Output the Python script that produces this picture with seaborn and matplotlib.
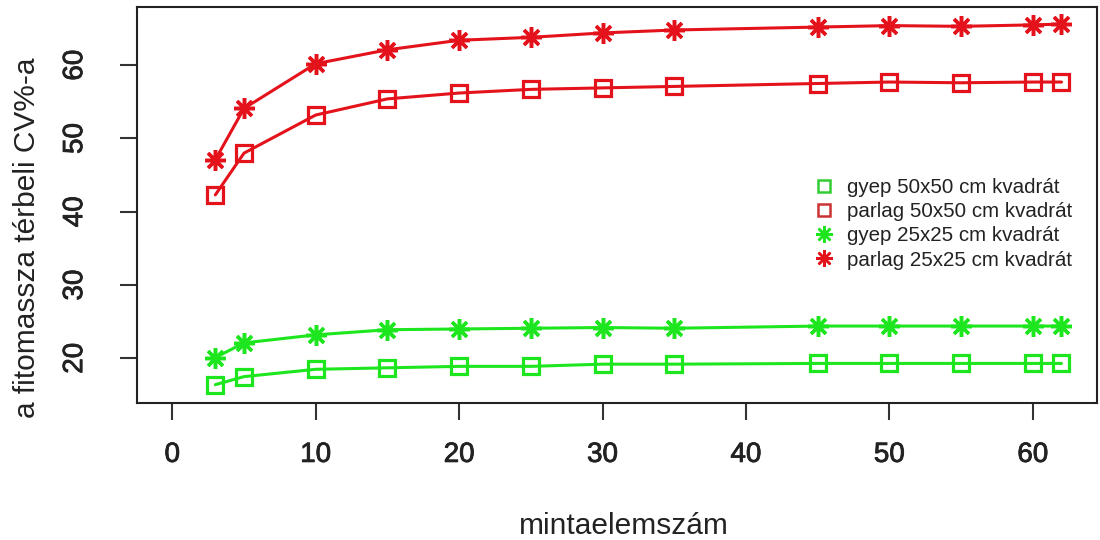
import matplotlib
matplotlib.use("Agg")
import matplotlib.pyplot as plt
import matplotlib.patheffects as pe
from matplotlib.lines import Line2D
import seaborn as sns
import pandas as pd

# mintaelemszám (x) and CV% values
mintaelem = [3, 5, 10, 15, 20, 25, 30, 35, 45, 50, 55, 60, 62]
gyep_50 = [16.4, 17.5, 18.5, 18.7, 18.9, 18.9, 19.2, 19.2, 19.3, 19.3, 19.3, 19.3, 19.3]
parlag_50 = [42.3, 48.0, 53.2, 55.4, 56.2, 56.7, 56.9, 57.1, 57.5, 57.7, 57.6, 57.7, 57.7]
gyep_25 = [20.1, 22.1, 23.2, 23.9, 24.0, 24.1, 24.2, 24.1, 24.4, 24.4, 24.4, 24.4, 24.4]
parlag_25 = [47.1, 54.1, 60.2, 62.1, 63.4, 63.8, 64.4, 64.8, 65.2, 65.4, 65.3, 65.5, 65.6]

labels = ["gyep 50x50 cm kvadrát", "parlag 50x50 cm kvadrát",
          "gyep 25x25 cm kvadrát", "parlag 25x25 cm kvadrát"]

sns.set_style("white")
plt.rcParams['font.family'] = ['Liberation Sans', 'DejaVu Sans']

GREEN = "#1ee61e"
RED = "#e3121b"
asterisk = (8, 2, 0)

fig = plt.figure(figsize=(11, 5.4), dpi=100)
ax = fig.add_axes([0.1243, 0.2537, 0.8730, 0.7328])

series = [
    (gyep_50, GREEN, "s"),
    (parlag_50, RED, "s"),
    (gyep_25, GREEN, asterisk),
    (parlag_25, RED, asterisk),
]
for vals, col, mk in series:
    df = pd.DataFrame({"x": mintaelem, "y": vals})
    if mk == "s":
        sns.lineplot(data=df, x="x", y="y", ax=ax, color=col, lw=2.2,
                     marker="s", markersize=11, markerfacecolor="none",
                     markeredgecolor=col, markeredgewidth=2.3)
    else:
        sns.lineplot(data=df, x="x", y="y", ax=ax, color=col, lw=2.2,
                     marker=mk, markersize=15, markeredgecolor=col,
                     markeredgewidth=2.5)

ax.set_xlim(-2.48, 64.48)
ax.set_ylim(13.9, 67.9)
ax.set_xticks([0, 10, 20, 30, 40, 50, 60])
ax.set_yticks([20, 30, 40, 50, 60])

for s in ax.spines.values():
    s.set_color("#222222")
    s.set_linewidth(1.5)

ax.tick_params(axis="x", direction="out", length=12, width=1.5, color="#333333",
               pad=16, labelsize=20, bottom=True)
ax.tick_params(axis="y", direction="out", length=12, width=1.5, color="#333333",
               pad=23, labelsize=20, left=True)
heavy = [pe.withStroke(linewidth=0.6, foreground="#222222")]
for t in ax.get_xticklabels() + ax.get_yticklabels():
    t.set_color("#222222")
    t.set_path_effects(heavy)
for t in ax.get_yticklabels():
    t.set_rotation(90)
    t.set_va("center")

ax.set_xlabel("mintaelemszám", fontsize=21.5, color="#222222")
ax.set_ylabel("a fitomassza térbeli CV%-a", fontsize=21.5, color="#222222")
ax.xaxis.set_label_coords(0.5074, -0.275)
ax.yaxis.set_label_coords(-0.1, 0.417)

handles = [
    Line2D([], [], ls="none", marker="s", markersize=8, markerfacecolor="none",
           markeredgecolor="#33cc33", markeredgewidth=1.8),
    Line2D([], [], ls="none", marker="s", markersize=8, markerfacecolor="none",
           markeredgecolor="#cc3333", markeredgewidth=1.8),
    Line2D([], [], ls="none", marker=asterisk, markersize=12,
           markeredgecolor=GREEN, markeredgewidth=1.8),
    Line2D([], [], ls="none", marker=asterisk, markersize=12,
           markeredgecolor=RED, markeredgewidth=1.8),
]
ax.legend(handles, labels, loc="upper left", bbox_to_anchor=(0.686, 0.615),
          frameon=False, fontsize=14.8, handlelength=1.0, handletextpad=0.6,
          labelspacing=0.25, labelcolor="#222222")

fig.savefig("out.png", dpi=100)
